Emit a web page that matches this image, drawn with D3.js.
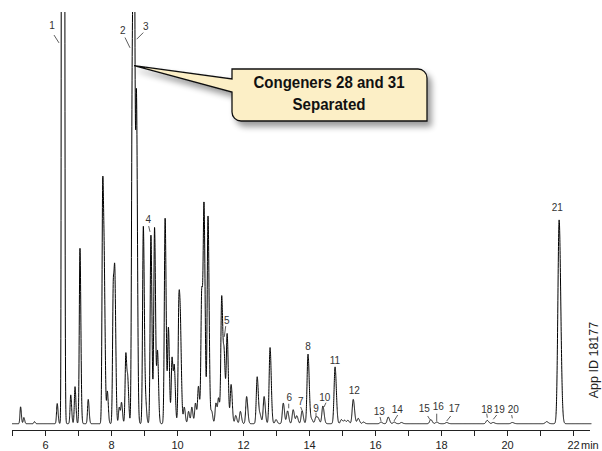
<!DOCTYPE html>
<html>
<head>
<meta charset="utf-8">
<script src="https://cdn.jsdelivr.net/npm/d3@7"></script>
<style>
  body { margin: 0; background: #fff; }
  svg { display: block; font-family: "Liberation Sans", Arial, Helvetica, sans-serif; }
</style>
</head>
<body>
<div id="chart"></div>
<script>
// retention time (min) of every peak
const peakTimes = [5.26, 5.36, 5.68, 6.37, 6.54, 6.78, 6.91, 7.06, 7.31, 7.75,
  7.80, 7.89, 8.07, 8.12, 8.25, 8.32, 8.45, 8.51, 8.645, 8.697,
  8.773, 8.98, 9.05, 9.21, 9.32, 9.41, 9.64, 9.74, 9.85, 9.92,
  10.06, 10.11, 10.22, 10.35, 10.45, 10.56, 10.65, 10.75, 10.82, 10.94,
  11.05, 11.18, 11.26, 11.355, 11.43, 11.52, 11.64, 11.78, 11.92, 12.11,
  12.43, 12.52, 12.64, 12.82, 13.0, 13.22, 13.35, 13.52, 13.63, 13.79,
  13.97, 14.08, 14.21, 14.28, 14.42, 14.79, 14.98, 15.08, 15.18, 15.34,
  15.49, 15.65, 16.18, 16.40, 16.58, 16.80, 17.69, 17.87, 18.17, 19.40,
  19.58, 20.16, 21.20, 21.58];

// peak heights in % of full scale (100 = top of the plot, bigger ones run off)
const peakHeights = [4.1, 1.5, 0.5, 4.9, 2000, 7, 9, 42.6, 5.9, 58,
  28, 7.8, 33, 30, 4, 5, 17, 9.5, 83, 140,
  76, 47.9, 5, 45.8, 47.6, 17.3, 49.9, 23.2, 16, 13,
  30, 16, 4, 3, 4, 5, 9, 32, 50.5, 50.4,
  3, 5, 6, 30.8, 15.6, 21.5, 9.5, 2, 3, 6.6,
  11.4, 2, 6.6, 18.5, 1, 5, 3.1, 3.4, 1.9, 3.1,
  16.9, 1, 1.6, 1.2, 4.3, 13.8, 1, 0.8, 0.8, 5.9,
  1.3, 0.4, 0.4, 1.6, 0.4, 0.3, 1.0, 0.4, 0.3, 0.8,
  0.3, 0.3, 0.5, 49.5];

// numbered congener peaks
const labelIds = ["1", "2", "3", "4", "5", "6", "7", "8", "9", "10",
  "11", "12", "13", "14", "15", "16", "17", "18", "19", "20", "21"];

// x axis
const tickMinutes = d3.range(5, 23);
const tickLabels = ["6", "8", "10", "12", "14", "16", "18", "20", "22"];
const axisUnit = "min";

const calloutLines = ["Congeners 28 and 31", "Separated"];
const appId = "App ID 18177";

// ---- layout ----
const W = 602, H = 451;
const svg = d3.select("#chart").append("svg")
  .attr("width", W).attr("height", H);

svg.append("rect").attr("width", W).attr("height", H).attr("fill", "#fff");

const x = d3.scaleLinear().domain([5, 22.5]).range([12, 589.5]);
const y = d3.scaleLinear().domain([0, 100]).range([423.7, 12]);

// peak shape: narrow gaussians that widen a little with time, slight tailing
const sigmaAt = t => 0.018 + 0.0012 * (t - 5);
const tailing = 1.3;
function signal(t) {
  let s = 0;
  for (let i = 0; i < peakTimes.length; i++) {
    const d = t - peakTimes[i];
    const sg = sigmaAt(peakTimes[i]) * (d > 0 ? tailing : 1);
    if (Math.abs(d) > 9 * sg) continue;
    s += peakHeights[i] * Math.exp(-0.5 * (d / sg) * (d / sg));
  }
  return s;
}

const samples = d3.range(5, 22.56, 0.002).map(t => [t, signal(t)]);

svg.append("clipPath").attr("id", "plotclip")
  .append("rect").attr("x", 0).attr("y", 12).attr("width", W).attr("height", H - 12);

svg.append("path")
  .datum(samples)
  .attr("clip-path", "url(#plotclip)")
  .attr("fill", "none")
  .attr("stroke", "#000")
  .attr("stroke-width", 1)
  .attr("stroke-linejoin", "round")
  .attr("d", d3.line().x(d => x(d[0])).y(d => y(Math.min(d[1], 110))));

// x axis
const axisY = 430;
const axis = svg.append("g")
  .attr("transform", `translate(0,${axisY})`)
  .call(d3.axisBottom(x)
    .tickValues(tickMinutes)
    .tickSize(6)
    .tickSizeOuter(0)
    .tickPadding(5)
    .tickFormat(d => tickLabels.includes(String(d)) ? String(d) : ""));
axis.select(".domain").attr("stroke", "#222").attr("stroke-width", 1);
axis.selectAll(".tick line").attr("stroke", "#222").attr("stroke-width", 1);
axis.selectAll(".tick text")
  .attr("fill", "#222")
  .style("font-size", "11px")
  .style("font-family", "Liberation Sans, Arial, sans-serif");
svg.append("text")
  .attr("x", x(22) + 8)
  .attr("y", axisY + 11)
  .attr("dy", "0.71em")
  .attr("fill", "#222")
  .style("font-size", "11px")
  .text(axisUnit);

// peak labels: [label time, label level, leader t1, l1, t2, l2]
const labelLayout = [
  [6.212, 96.6, 6.273, 94.4, 6.424, 92.5],
  [8.355, 95.4, 8.424, 93.8, 8.576, 91.3],
  [9.052, 96.4, 8.979, 95.0, 8.779, 93.4],
  [9.130, 49.5, 9.142, 48.0, 9.182, 46.6],
  [11.506, 25.0, 11.476, 23.7, 11.433, 21.1],
  [13.403, 6.3, 13.385, 4.86, 13.385, 3.74],
  [13.748, 5.5, 13.748, 4.06, 13.809, 2.84],
  [13.970, 18.7],
  [14.212, 3.64, 14.212, 2.67, 14.212, 1.63],
  [14.476, 6.3, 14.515, 5.1, 14.455, 4.06],
  [14.788, 15.4],
  [15.373, 8.1],
  [16.13, 3.08, 16.152, 1.63, 16.182, 0.66],
  [16.676, 3.5, 16.688, 2.11, 16.576, 0.66],
  [17.494, 3.74, 17.597, 1.87, 17.667, 0.97],
  [17.918, 4.06, 17.87, 2.43, 17.87, 0.66],
  [18.403, 3.74, 18.294, 1.87, 18.173, 0.66],
  [19.385, 3.5, 19.385, 2.43, 19.403, 1.46],
  [19.767, 3.33, 19.688, 2.11, 19.585, 1.07],
  [20.191, 3.33, 20.142, 2.11, 20.161, 1.31],
  [21.524, 52.5]
];

const labels = svg.append("g");
labelIds.forEach((id, i) => {
  const L = labelLayout[i];
  labels.append("text")
    .attr("x", x(L[0]))
    .attr("y", y(L[1]))
    .attr("dy", "0.35em")
    .attr("text-anchor", "middle")
    .attr("fill", "#333")
    .style("font-size", "10px")
    .text(id);
  if (L.length > 2) {
    labels.append("line")
      .attr("x1", x(L[2])).attr("y1", y(L[3]))
      .attr("x2", x(L[4])).attr("y2", y(L[5]))
      .attr("stroke", "#333")
      .attr("stroke-width", 0.8);
  }
});

// callout pointing at peaks 2/3
const defs = svg.append("defs");
const f = defs.append("filter").attr("id", "shadow")
  .attr("x", "-20%").attr("y", "-30%").attr("width", "140%").attr("height", "170%");
f.append("feGaussianBlur").attr("in", "SourceAlpha").attr("stdDeviation", 3).attr("result", "b");
f.append("feOffset").attr("in", "b").attr("dx", 4).attr("dy", 5).attr("result", "o");
f.append("feComponentTransfer").attr("in", "o").attr("result", "s")
  .append("feFuncA").attr("type", "linear").attr("slope", 0.4);
const fm = f.append("feMerge");
fm.append("feMergeNode").attr("in", "s");
fm.append("feMergeNode").attr("in", "SourceGraphic");

const tipX = x(8.7), tipY = y(87);
const bx0 = 232, bx1 = 427, by0 = 69, by1 = 121, r = 9;
const calloutPath = d3.path();
calloutPath.moveTo(bx0, by0);
calloutPath.lineTo(bx1 - r, by0);
calloutPath.arcTo(bx1, by0, bx1, by0 + r, r);
calloutPath.lineTo(bx1, by1);
calloutPath.lineTo(bx0 + r, by1);
calloutPath.arcTo(bx0, by1, bx0, by1 - r, r);
calloutPath.lineTo(bx0, 92);
calloutPath.lineTo(tipX, tipY);
calloutPath.lineTo(bx0, 79);
calloutPath.closePath();

svg.append("path")
  .attr("d", calloutPath.toString())
  .attr("fill", "#fcefc6")
  .attr("stroke", "#111")
  .attr("stroke-width", 1.3)
  .attr("stroke-linejoin", "miter")
  .attr("filter", "url(#shadow)");

const cx = 329;
[[calloutLines[0], 87.6, 151], [calloutLines[1], 109.6, 73]].forEach(([t, yy, w]) => {
  svg.append("text")
    .attr("x", cx)
    .attr("y", yy)
    .attr("text-anchor", "middle")
    .attr("textLength", w)
    .attr("lengthAdjust", "spacingAndGlyphs")
    .attr("fill", "#111")
    .style("font-family", "'Liberation Sans Narrow', 'Liberation Sans', Arial, sans-serif")
    .style("font-weight", "bold")
    .style("font-size", "16px")
    .text(t);
});

// application id, rotated on the right edge
svg.append("text")
  .attr("transform", "translate(598,360) rotate(-90)")
  .attr("text-anchor", "middle")
  .attr("fill", "#222")
  .style("font-size", "12.5px")
  .text(appId);
</script>
</body>
</html>
